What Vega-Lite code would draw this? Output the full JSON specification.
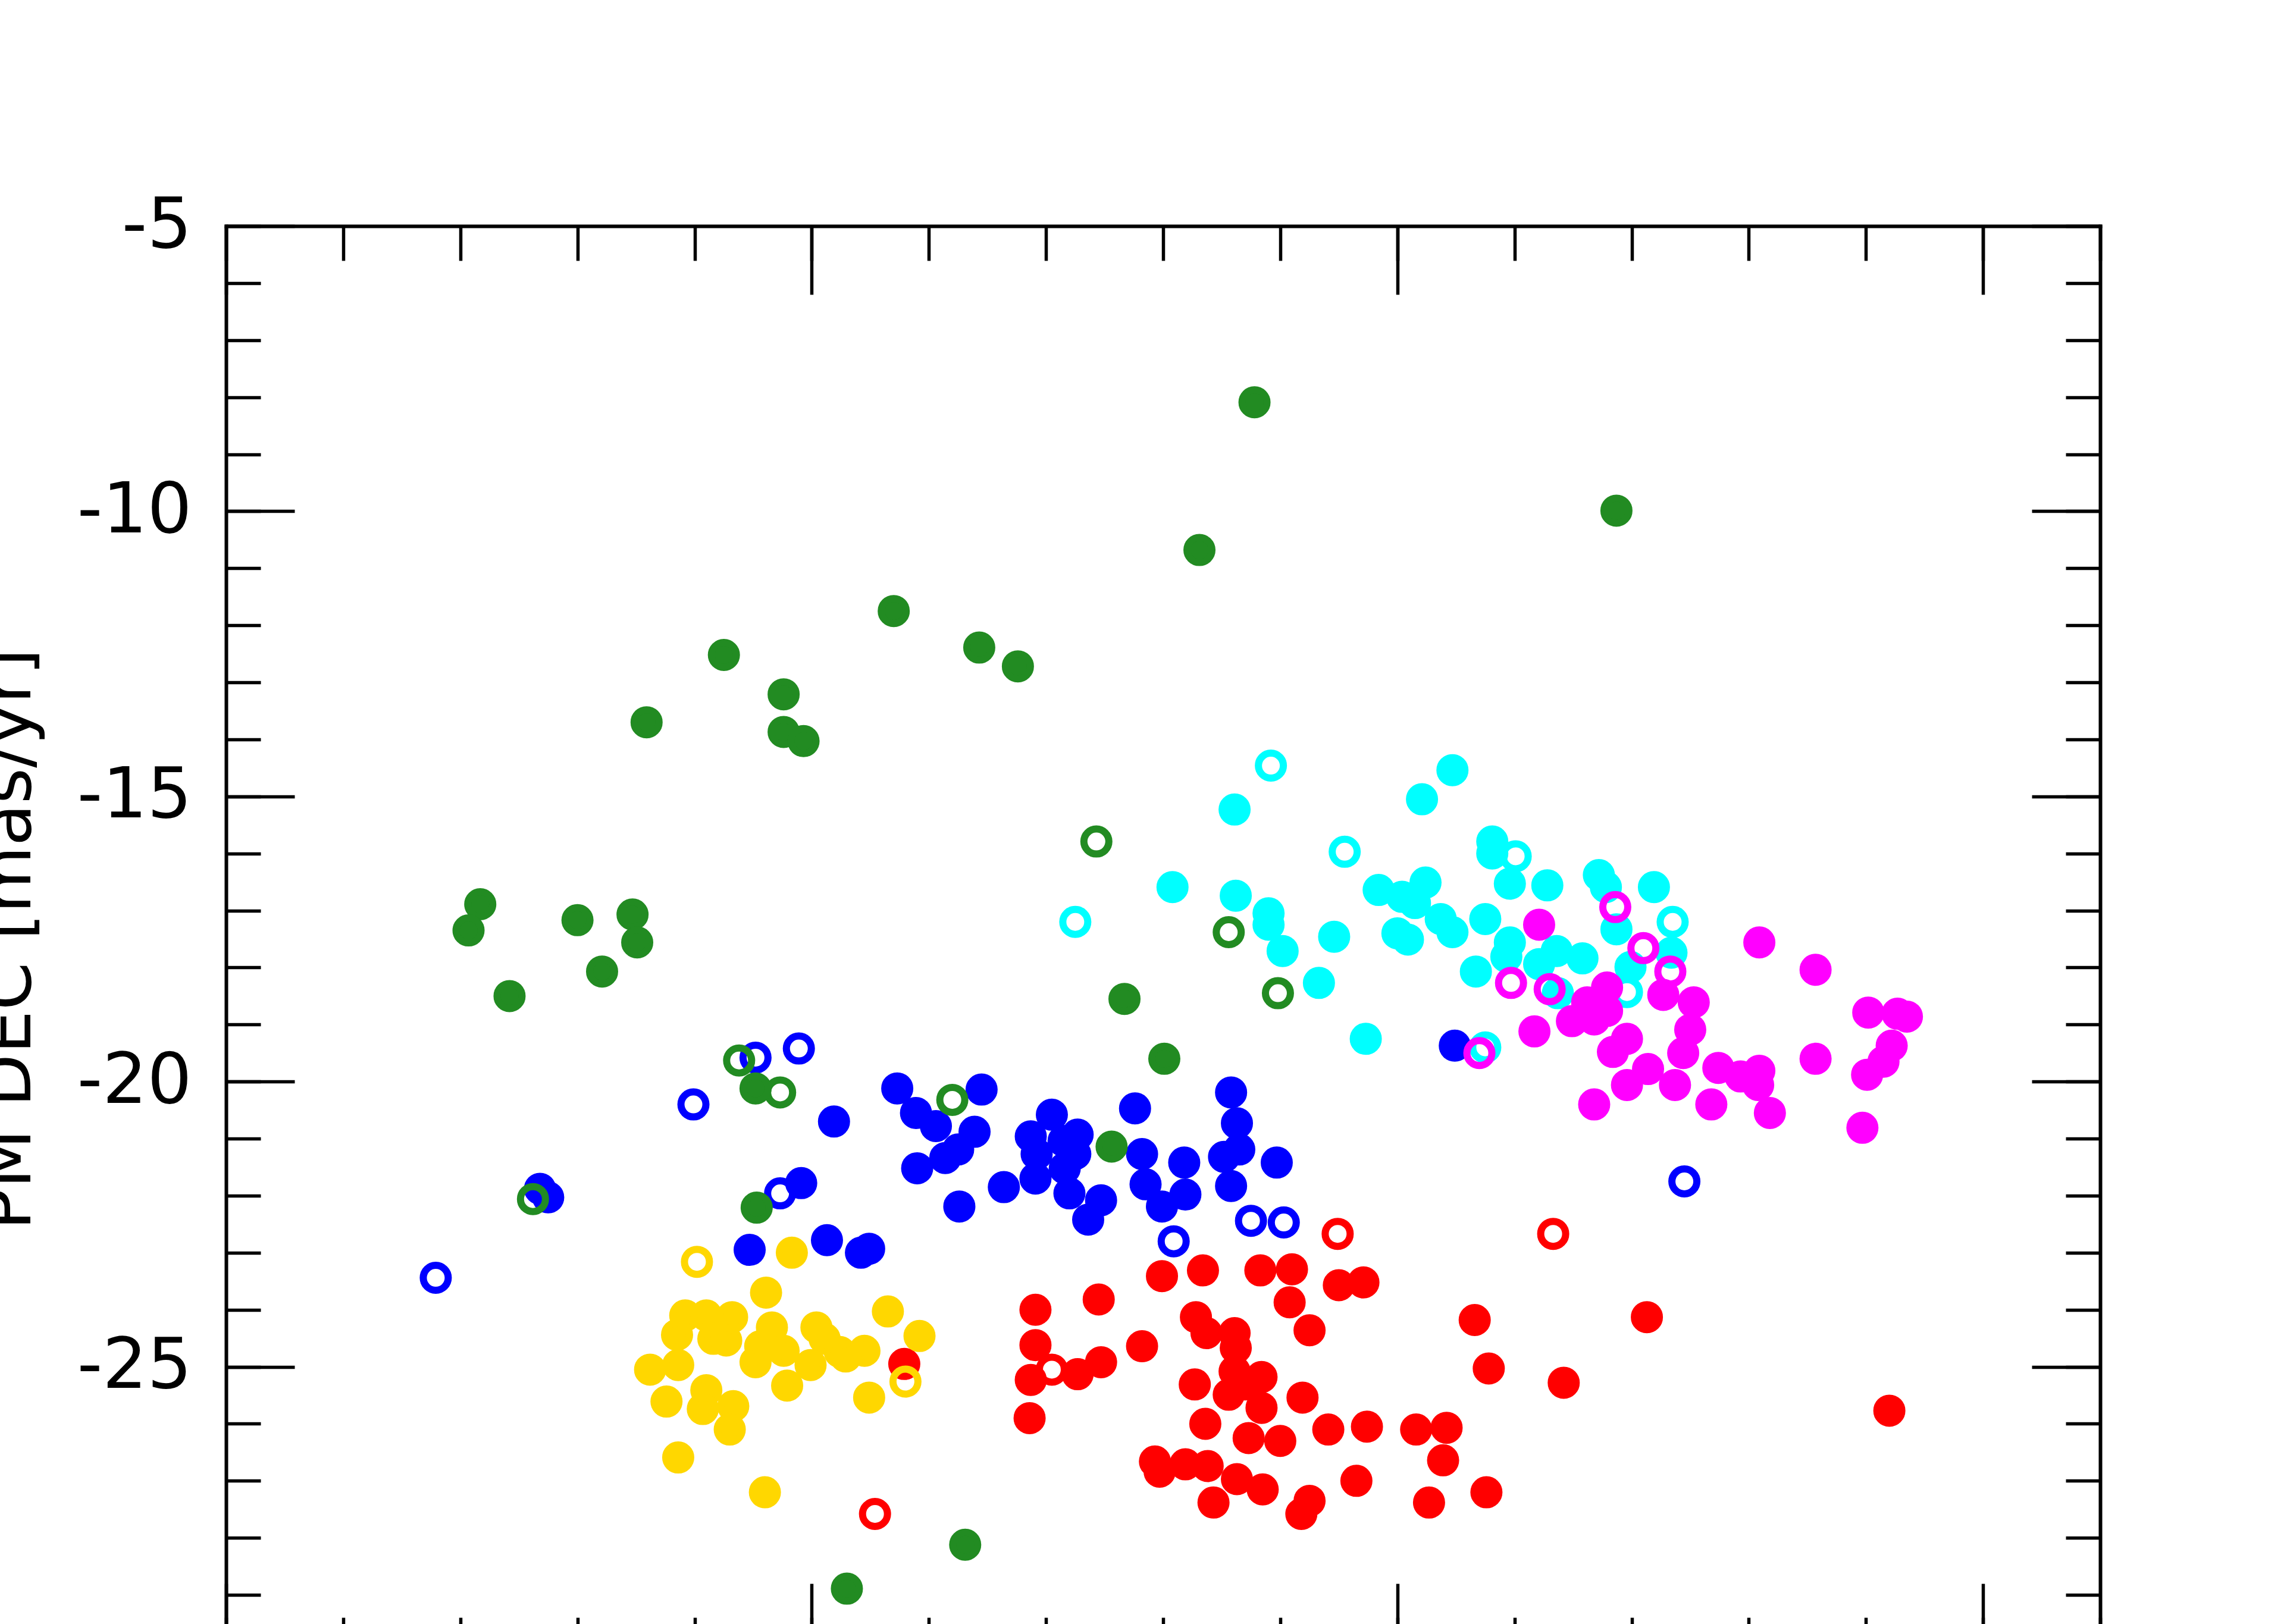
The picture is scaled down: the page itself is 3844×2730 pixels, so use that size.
{
"$schema": "https://vega.github.io/schema/vega-lite/v6.json",
"width": 3150,
"height": 2397,
"autosize": {"type": "none"},
"padding": {"left": 380, "top": 380, "right": 314, "bottom": 0},
"background": "white",
"config": {
  "view": {"stroke": null},
  "font": "DejaVu Sans",
  "axis": {"labelFont": "DejaVu Sans", "titleFont": "DejaVu Sans", "tickColor": "black", "domainColor": "black", "tickWidth": 5.5, "domainWidth": 6, "grid": false, "labelColor": "black", "titleColor": "black", "domainCap": "square", "labelLimit": 0}
},
"data": {"values": [
{"pmra":5.54,"pmdec":-27.58,"group":"red","kind":"open"},
{"pmra":9.49,"pmdec":-22.67,"group":"red","kind":"open"},
{"pmra":11.33,"pmdec":-22.67,"group":"red","kind":"open"},
{"pmra":7.05,"pmdec":-25.05,"group":"red","kind":"open"},
{"pmra":5.79,"pmdec":-24.95,"group":"red","kind":"filled"},
{"pmra":7.99,"pmdec":-23.41,"group":"red","kind":"filled"},
{"pmra":8.34,"pmdec":-23.31,"group":"red","kind":"filled"},
{"pmra":8.83,"pmdec":-23.31,"group":"red","kind":"filled"},
{"pmra":9.10,"pmdec":-23.29,"group":"red","kind":"filled"},
{"pmra":9.50,"pmdec":-23.57,"group":"red","kind":"filled"},
{"pmra":9.71,"pmdec":-23.52,"group":"red","kind":"filled"},
{"pmra":9.08,"pmdec":-23.87,"group":"red","kind":"filled"},
{"pmra":9.25,"pmdec":-24.36,"group":"red","kind":"filled"},
{"pmra":7.45,"pmdec":-23.82,"group":"red","kind":"filled"},
{"pmra":6.91,"pmdec":-24.00,"group":"red","kind":"filled"},
{"pmra":8.28,"pmdec":-24.13,"group":"red","kind":"filled"},
{"pmra":8.37,"pmdec":-24.41,"group":"red","kind":"filled"},
{"pmra":8.61,"pmdec":-24.41,"group":"red","kind":"filled"},
{"pmra":8.62,"pmdec":-24.67,"group":"red","kind":"filled"},
{"pmra":7.82,"pmdec":-24.64,"group":"red","kind":"filled"},
{"pmra":6.91,"pmdec":-24.62,"group":"red","kind":"filled"},
{"pmra":7.47,"pmdec":-24.92,"group":"red","kind":"filled"},
{"pmra":7.27,"pmdec":-25.13,"group":"red","kind":"filled"},
{"pmra":6.87,"pmdec":-25.23,"group":"red","kind":"filled"},
{"pmra":6.86,"pmdec":-25.90,"group":"red","kind":"filled"},
{"pmra":8.27,"pmdec":-25.31,"group":"red","kind":"filled"},
{"pmra":8.56,"pmdec":-25.49,"group":"red","kind":"filled"},
{"pmra":8.61,"pmdec":-25.08,"group":"red","kind":"filled"},
{"pmra":8.84,"pmdec":-25.18,"group":"red","kind":"filled"},
{"pmra":8.84,"pmdec":-25.72,"group":"red","kind":"filled"},
{"pmra":8.70,"pmdec":-25.31,"group":"red","kind":"filled"},
{"pmra":8.36,"pmdec":-26.00,"group":"red","kind":"filled"},
{"pmra":9.19,"pmdec":-25.54,"group":"red","kind":"filled"},
{"pmra":8.73,"pmdec":-26.25,"group":"red","kind":"filled"},
{"pmra":9.00,"pmdec":-26.30,"group":"red","kind":"filled"},
{"pmra":9.41,"pmdec":-26.10,"group":"red","kind":"filled"},
{"pmra":9.74,"pmdec":-26.05,"group":"red","kind":"filled"},
{"pmra":7.93,"pmdec":-26.66,"group":"red","kind":"filled"},
{"pmra":7.97,"pmdec":-26.84,"group":"red","kind":"filled"},
{"pmra":8.19,"pmdec":-26.71,"group":"red","kind":"filled"},
{"pmra":8.38,"pmdec":-26.74,"group":"red","kind":"filled"},
{"pmra":8.63,"pmdec":-26.97,"group":"red","kind":"filled"},
{"pmra":8.43,"pmdec":-27.38,"group":"red","kind":"filled"},
{"pmra":8.85,"pmdec":-27.15,"group":"red","kind":"filled"},
{"pmra":9.25,"pmdec":-27.35,"group":"red","kind":"filled"},
{"pmra":9.18,"pmdec":-27.58,"group":"red","kind":"filled"},
{"pmra":9.65,"pmdec":-27.00,"group":"red","kind":"filled"},
{"pmra":10.66,"pmdec":-24.18,"group":"red","kind":"filled"},
{"pmra":10.78,"pmdec":-25.03,"group":"red","kind":"filled"},
{"pmra":11.42,"pmdec":-25.28,"group":"red","kind":"filled"},
{"pmra":12.13,"pmdec":-24.13,"group":"red","kind":"filled"},
{"pmra":14.20,"pmdec":-25.77,"group":"red","kind":"filled"},
{"pmra":10.16,"pmdec":-26.10,"group":"red","kind":"filled"},
{"pmra":10.42,"pmdec":-26.07,"group":"red","kind":"filled"},
{"pmra":10.39,"pmdec":-26.64,"group":"red","kind":"filled"},
{"pmra":10.27,"pmdec":-27.38,"group":"red","kind":"filled"},
{"pmra":10.76,"pmdec":-27.20,"group":"red","kind":"filled"},
{"pmra":4.02,"pmdec":-23.16,"group":"gold","kind":"open"},
{"pmra":5.80,"pmdec":-25.26,"group":"gold","kind":"open"},
{"pmra":4.83,"pmdec":-23.00,"group":"gold","kind":"filled"},
{"pmra":4.61,"pmdec":-23.70,"group":"gold","kind":"filled"},
{"pmra":3.92,"pmdec":-24.10,"group":"gold","kind":"filled"},
{"pmra":4.10,"pmdec":-24.10,"group":"gold","kind":"filled"},
{"pmra":4.32,"pmdec":-24.13,"group":"gold","kind":"filled"},
{"pmra":3.85,"pmdec":-24.44,"group":"gold","kind":"filled"},
{"pmra":4.16,"pmdec":-24.51,"group":"gold","kind":"filled"},
{"pmra":4.27,"pmdec":-24.54,"group":"gold","kind":"filled"},
{"pmra":4.66,"pmdec":-24.31,"group":"gold","kind":"filled"},
{"pmra":5.04,"pmdec":-24.31,"group":"gold","kind":"filled"},
{"pmra":5.11,"pmdec":-24.51,"group":"gold","kind":"filled"},
{"pmra":5.65,"pmdec":-24.03,"group":"gold","kind":"filled"},
{"pmra":5.92,"pmdec":-24.46,"group":"gold","kind":"filled"},
{"pmra":4.52,"pmdec":-24.92,"group":"gold","kind":"filled"},
{"pmra":4.56,"pmdec":-24.64,"group":"gold","kind":"filled"},
{"pmra":4.76,"pmdec":-24.72,"group":"gold","kind":"filled"},
{"pmra":4.99,"pmdec":-24.97,"group":"gold","kind":"filled"},
{"pmra":5.24,"pmdec":-24.74,"group":"gold","kind":"filled"},
{"pmra":5.45,"pmdec":-24.72,"group":"gold","kind":"filled"},
{"pmra":4.79,"pmdec":-25.33,"group":"gold","kind":"filled"},
{"pmra":3.62,"pmdec":-25.05,"group":"gold","kind":"filled"},
{"pmra":3.86,"pmdec":-24.97,"group":"gold","kind":"filled"},
{"pmra":3.76,"pmdec":-25.61,"group":"gold","kind":"filled"},
{"pmra":4.10,"pmdec":-25.41,"group":"gold","kind":"filled"},
{"pmra":4.07,"pmdec":-25.74,"group":"gold","kind":"filled"},
{"pmra":4.33,"pmdec":-25.69,"group":"gold","kind":"filled"},
{"pmra":4.30,"pmdec":-26.10,"group":"gold","kind":"filled"},
{"pmra":5.49,"pmdec":-25.54,"group":"gold","kind":"filled"},
{"pmra":3.86,"pmdec":-26.59,"group":"gold","kind":"filled"},
{"pmra":4.60,"pmdec":-27.20,"group":"gold","kind":"filled"},
{"pmra":5.29,"pmdec":-24.82,"group":"gold","kind":"filled"},
{"pmra":1.79,"pmdec":-23.44,"group":"blue","kind":"open"},
{"pmra":3.99,"pmdec":-20.40,"group":"blue","kind":"open"},
{"pmra":4.52,"pmdec":-19.58,"group":"blue","kind":"open"},
{"pmra":4.89,"pmdec":-19.42,"group":"blue","kind":"open"},
{"pmra":4.73,"pmdec":-21.96,"group":"blue","kind":"open"},
{"pmra":8.09,"pmdec":-22.80,"group":"blue","kind":"open"},
{"pmra":8.75,"pmdec":-22.44,"group":"blue","kind":"open"},
{"pmra":9.03,"pmdec":-22.47,"group":"blue","kind":"open"},
{"pmra":12.45,"pmdec":-21.75,"group":"blue","kind":"open"},
{"pmra":2.68,"pmdec":-21.88,"group":"blue","kind":"filled"},
{"pmra":2.75,"pmdec":-22.03,"group":"blue","kind":"filled"},
{"pmra":5.19,"pmdec":-20.70,"group":"blue","kind":"filled"},
{"pmra":4.91,"pmdec":-21.78,"group":"blue","kind":"filled"},
{"pmra":4.47,"pmdec":-22.95,"group":"blue","kind":"filled"},
{"pmra":5.13,"pmdec":-22.78,"group":"blue","kind":"filled"},
{"pmra":5.42,"pmdec":-23.00,"group":"blue","kind":"filled"},
{"pmra":5.49,"pmdec":-22.93,"group":"blue","kind":"filled"},
{"pmra":5.73,"pmdec":-20.12,"group":"blue","kind":"filled"},
{"pmra":5.89,"pmdec":-20.55,"group":"blue","kind":"filled"},
{"pmra":6.06,"pmdec":-20.78,"group":"blue","kind":"filled"},
{"pmra":6.45,"pmdec":-20.14,"group":"blue","kind":"filled"},
{"pmra":6.39,"pmdec":-20.88,"group":"blue","kind":"filled"},
{"pmra":6.25,"pmdec":-21.19,"group":"blue","kind":"filled"},
{"pmra":6.14,"pmdec":-21.34,"group":"blue","kind":"filled"},
{"pmra":5.90,"pmdec":-21.52,"group":"blue","kind":"filled"},
{"pmra":6.26,"pmdec":-22.19,"group":"blue","kind":"filled"},
{"pmra":6.64,"pmdec":-21.85,"group":"blue","kind":"filled"},
{"pmra":7.05,"pmdec":-20.58,"group":"blue","kind":"filled"},
{"pmra":6.87,"pmdec":-20.96,"group":"blue","kind":"filled"},
{"pmra":6.92,"pmdec":-21.27,"group":"blue","kind":"filled"},
{"pmra":6.91,"pmdec":-21.70,"group":"blue","kind":"filled"},
{"pmra":7.15,"pmdec":-21.04,"group":"blue","kind":"filled"},
{"pmra":7.27,"pmdec":-20.93,"group":"blue","kind":"filled"},
{"pmra":7.25,"pmdec":-21.27,"group":"blue","kind":"filled"},
{"pmra":7.16,"pmdec":-21.52,"group":"blue","kind":"filled"},
{"pmra":7.20,"pmdec":-21.96,"group":"blue","kind":"filled"},
{"pmra":7.47,"pmdec":-22.08,"group":"blue","kind":"filled"},
{"pmra":7.36,"pmdec":-22.42,"group":"blue","kind":"filled"},
{"pmra":7.76,"pmdec":-20.47,"group":"blue","kind":"filled"},
{"pmra":7.82,"pmdec":-21.27,"group":"blue","kind":"filled"},
{"pmra":7.85,"pmdec":-21.80,"group":"blue","kind":"filled"},
{"pmra":7.99,"pmdec":-22.19,"group":"blue","kind":"filled"},
{"pmra":8.18,"pmdec":-21.42,"group":"blue","kind":"filled"},
{"pmra":8.19,"pmdec":-21.98,"group":"blue","kind":"filled"},
{"pmra":8.58,"pmdec":-20.19,"group":"blue","kind":"filled"},
{"pmra":8.63,"pmdec":-20.73,"group":"blue","kind":"filled"},
{"pmra":8.65,"pmdec":-21.19,"group":"blue","kind":"filled"},
{"pmra":8.52,"pmdec":-21.32,"group":"blue","kind":"filled"},
{"pmra":8.58,"pmdec":-21.83,"group":"blue","kind":"filled"},
{"pmra":8.97,"pmdec":-21.42,"group":"blue","kind":"filled"},
{"pmra":10.49,"pmdec":-19.37,"group":"blue","kind":"filled"},
{"pmra":7.43,"pmdec":-15.79,"group":"green","kind":"open"},
{"pmra":8.56,"pmdec":-17.38,"group":"green","kind":"open"},
{"pmra":8.98,"pmdec":-18.45,"group":"green","kind":"open"},
{"pmra":4.38,"pmdec":-19.63,"group":"green","kind":"open"},
{"pmra":4.73,"pmdec":-20.19,"group":"green","kind":"open"},
{"pmra":6.20,"pmdec":-20.32,"group":"green","kind":"open"},
{"pmra":2.62,"pmdec":-22.06,"group":"green","kind":"open"},
{"pmra":8.78,"pmdec":-8.09,"group":"green","kind":"filled"},
{"pmra":11.87,"pmdec":-9.99,"group":"green","kind":"filled"},
{"pmra":8.31,"pmdec":-10.68,"group":"green","kind":"filled"},
{"pmra":5.70,"pmdec":-11.75,"group":"green","kind":"filled"},
{"pmra":4.25,"pmdec":-12.52,"group":"green","kind":"filled"},
{"pmra":6.43,"pmdec":-12.39,"group":"green","kind":"filled"},
{"pmra":6.76,"pmdec":-12.72,"group":"green","kind":"filled"},
{"pmra":4.76,"pmdec":-13.21,"group":"green","kind":"filled"},
{"pmra":3.59,"pmdec":-13.70,"group":"green","kind":"filled"},
{"pmra":4.76,"pmdec":-13.87,"group":"green","kind":"filled"},
{"pmra":4.93,"pmdec":-14.03,"group":"green","kind":"filled"},
{"pmra":2.17,"pmdec":-16.89,"group":"green","kind":"filled"},
{"pmra":2.07,"pmdec":-17.35,"group":"green","kind":"filled"},
{"pmra":3.00,"pmdec":-17.17,"group":"green","kind":"filled"},
{"pmra":3.47,"pmdec":-17.07,"group":"green","kind":"filled"},
{"pmra":3.51,"pmdec":-17.56,"group":"green","kind":"filled"},
{"pmra":3.21,"pmdec":-18.07,"group":"green","kind":"filled"},
{"pmra":2.42,"pmdec":-18.50,"group":"green","kind":"filled"},
{"pmra":7.67,"pmdec":-18.55,"group":"green","kind":"filled"},
{"pmra":8.01,"pmdec":-19.60,"group":"green","kind":"filled"},
{"pmra":4.52,"pmdec":-20.12,"group":"green","kind":"filled"},
{"pmra":7.56,"pmdec":-21.14,"group":"green","kind":"filled"},
{"pmra":4.53,"pmdec":-22.21,"group":"green","kind":"filled"},
{"pmra":6.31,"pmdec":-28.12,"group":"green","kind":"filled"},
{"pmra":5.30,"pmdec":-28.89,"group":"green","kind":"filled"},
{"pmra":8.92,"pmdec":-14.46,"group":"cyan","kind":"open"},
{"pmra":9.55,"pmdec":-15.97,"group":"cyan","kind":"open"},
{"pmra":11.01,"pmdec":-16.05,"group":"cyan","kind":"open"},
{"pmra":12.35,"pmdec":-17.20,"group":"cyan","kind":"open"},
{"pmra":7.25,"pmdec":-17.20,"group":"cyan","kind":"open"},
{"pmra":10.75,"pmdec":-19.40,"group":"cyan","kind":"open"},
{"pmra":11.96,"pmdec":-18.43,"group":"cyan","kind":"open"},
{"pmra":8.08,"pmdec":-16.59,"group":"cyan","kind":"filled"},
{"pmra":8.61,"pmdec":-15.23,"group":"cyan","kind":"filled"},
{"pmra":8.62,"pmdec":-16.74,"group":"cyan","kind":"filled"},
{"pmra":8.90,"pmdec":-17.05,"group":"cyan","kind":"filled"},
{"pmra":8.90,"pmdec":-17.25,"group":"cyan","kind":"filled"},
{"pmra":9.02,"pmdec":-17.71,"group":"cyan","kind":"filled"},
{"pmra":9.33,"pmdec":-18.27,"group":"cyan","kind":"filled"},
{"pmra":9.46,"pmdec":-17.46,"group":"cyan","kind":"filled"},
{"pmra":9.73,"pmdec":-19.25,"group":"cyan","kind":"filled"},
{"pmra":9.84,"pmdec":-16.64,"group":"cyan","kind":"filled"},
{"pmra":10.04,"pmdec":-16.76,"group":"cyan","kind":"filled"},
{"pmra":10.24,"pmdec":-16.51,"group":"cyan","kind":"filled"},
{"pmra":10.15,"pmdec":-16.87,"group":"cyan","kind":"filled"},
{"pmra":10.37,"pmdec":-17.15,"group":"cyan","kind":"filled"},
{"pmra":10.47,"pmdec":-17.38,"group":"cyan","kind":"filled"},
{"pmra":10.00,"pmdec":-17.40,"group":"cyan","kind":"filled"},
{"pmra":10.09,"pmdec":-17.51,"group":"cyan","kind":"filled"},
{"pmra":10.21,"pmdec":-15.05,"group":"cyan","kind":"filled"},
{"pmra":10.47,"pmdec":-14.54,"group":"cyan","kind":"filled"},
{"pmra":10.75,"pmdec":-17.15,"group":"cyan","kind":"filled"},
{"pmra":10.81,"pmdec":-15.79,"group":"cyan","kind":"filled"},
{"pmra":10.81,"pmdec":-16.00,"group":"cyan","kind":"filled"},
{"pmra":10.96,"pmdec":-16.53,"group":"cyan","kind":"filled"},
{"pmra":11.28,"pmdec":-16.56,"group":"cyan","kind":"filled"},
{"pmra":10.96,"pmdec":-17.56,"group":"cyan","kind":"filled"},
{"pmra":10.93,"pmdec":-17.81,"group":"cyan","kind":"filled"},
{"pmra":10.67,"pmdec":-18.07,"group":"cyan","kind":"filled"},
{"pmra":11.36,"pmdec":-17.71,"group":"cyan","kind":"filled"},
{"pmra":11.58,"pmdec":-17.84,"group":"cyan","kind":"filled"},
{"pmra":11.21,"pmdec":-17.94,"group":"cyan","kind":"filled"},
{"pmra":11.37,"pmdec":-18.45,"group":"cyan","kind":"filled"},
{"pmra":11.72,"pmdec":-16.38,"group":"cyan","kind":"filled"},
{"pmra":11.78,"pmdec":-16.59,"group":"cyan","kind":"filled"},
{"pmra":12.19,"pmdec":-16.59,"group":"cyan","kind":"filled"},
{"pmra":11.87,"pmdec":-17.33,"group":"cyan","kind":"filled"},
{"pmra":11.99,"pmdec":-17.99,"group":"cyan","kind":"filled"},
{"pmra":12.34,"pmdec":-17.74,"group":"cyan","kind":"filled"},
{"pmra":11.86,"pmdec":-16.94,"group":"magenta","kind":"open"},
{"pmra":12.10,"pmdec":-17.66,"group":"magenta","kind":"open"},
{"pmra":12.33,"pmdec":-18.07,"group":"magenta","kind":"open"},
{"pmra":10.97,"pmdec":-18.27,"group":"magenta","kind":"open"},
{"pmra":11.30,"pmdec":-18.38,"group":"magenta","kind":"open"},
{"pmra":10.70,"pmdec":-19.50,"group":"magenta","kind":"open"},
{"pmra":11.21,"pmdec":-17.25,"group":"magenta","kind":"filled"},
{"pmra":11.17,"pmdec":-19.12,"group":"magenta","kind":"filled"},
{"pmra":11.49,"pmdec":-18.94,"group":"magenta","kind":"filled"},
{"pmra":11.68,"pmdec":-18.91,"group":"magenta","kind":"filled"},
{"pmra":11.62,"pmdec":-18.61,"group":"magenta","kind":"filled"},
{"pmra":11.79,"pmdec":-18.35,"group":"magenta","kind":"filled"},
{"pmra":12.27,"pmdec":-18.48,"group":"magenta","kind":"filled"},
{"pmra":12.53,"pmdec":-18.61,"group":"magenta","kind":"filled"},
{"pmra":12.50,"pmdec":-19.09,"group":"magenta","kind":"filled"},
{"pmra":12.44,"pmdec":-19.50,"group":"magenta","kind":"filled"},
{"pmra":11.96,"pmdec":-19.25,"group":"magenta","kind":"filled"},
{"pmra":11.84,"pmdec":-19.48,"group":"magenta","kind":"filled"},
{"pmra":12.14,"pmdec":-19.78,"group":"magenta","kind":"filled"},
{"pmra":11.96,"pmdec":-20.06,"group":"magenta","kind":"filled"},
{"pmra":12.37,"pmdec":-20.06,"group":"magenta","kind":"filled"},
{"pmra":12.74,"pmdec":-19.76,"group":"magenta","kind":"filled"},
{"pmra":12.93,"pmdec":-19.91,"group":"magenta","kind":"filled"},
{"pmra":13.09,"pmdec":-19.81,"group":"magenta","kind":"filled"},
{"pmra":13.08,"pmdec":-20.06,"group":"magenta","kind":"filled"},
{"pmra":12.68,"pmdec":-20.40,"group":"magenta","kind":"filled"},
{"pmra":13.18,"pmdec":-20.55,"group":"magenta","kind":"filled"},
{"pmra":11.68,"pmdec":-20.40,"group":"magenta","kind":"filled"},
{"pmra":13.09,"pmdec":-17.56,"group":"magenta","kind":"filled"},
{"pmra":13.57,"pmdec":-18.04,"group":"magenta","kind":"filled"},
{"pmra":13.57,"pmdec":-19.60,"group":"magenta","kind":"filled"},
{"pmra":14.02,"pmdec":-18.79,"group":"magenta","kind":"filled"},
{"pmra":14.27,"pmdec":-18.81,"group":"magenta","kind":"filled"},
{"pmra":14.35,"pmdec":-18.86,"group":"magenta","kind":"filled"},
{"pmra":14.22,"pmdec":-19.37,"group":"magenta","kind":"filled"},
{"pmra":14.15,"pmdec":-19.65,"group":"magenta","kind":"filled"},
{"pmra":14.01,"pmdec":-19.88,"group":"magenta","kind":"filled"},
{"pmra":13.97,"pmdec":-20.81,"group":"magenta","kind":"filled"},
{"pmra":11.79,"pmdec":-18.76,"group":"magenta","kind":"filled"}
]},
"resolve": {"axis": {"x": "independent", "y": "independent"}},
"layer": [
  {
    "mark": {"type": "point", "shape": "circle", "size": 1764, "strokeWidth": 12, "opacity": 1, "fillOpacity": 1, "strokeOpacity": 1},
    "encoding": {
      "x": {"field": "pmra", "type": "quantitative", "scale": {"domain": [0, 16], "nice": false, "zero": false},
        "axis": {"orient": "bottom", "values": [0, 5, 10, 15], "tickSize": -115, "labels": false, "title": null, "domain": true}},
      "y": {"field": "pmdec", "type": "quantitative", "scale": {"domain": [-30, -5], "nice": false, "zero": false},
        "axis": {"orient": "left", "values": [-25, -20, -15, -10, -5], "tickSize": -115, "labelPadding": 173, "labelFontSize": 118, "labelExpr": "toString(datum.value)", "labelFlush": false, "labelOverlap": false, "title": "PM DEC [mas/yr]", "titleFontSize": 116, "titleFontWeight": "normal", "titleX": -330, "titleY": 1198.5, "titleAngle": -90, "titleBaseline": "alphabetic", "titleAlign": "center", "domain": true}},
      "fill": {"condition": {"test": "datum.kind === 'open'", "value": "transparent"}, "field": "group", "type": "nominal",
        "scale": {"domain": ["red", "gold", "blue", "green", "cyan", "magenta"], "range": ["#ff0000", "#ffd700", "#0000ff", "#228b22", "#00ffff", "#ff00ff"]}, "legend": null},
      "stroke": {"field": "group", "type": "nominal",
        "scale": {"domain": ["red", "gold", "blue", "green", "cyan", "magenta"], "range": ["#ff0000", "#ffd700", "#0000ff", "#228b22", "#00ffff", "#ff00ff"]}, "legend": null}
    }
  },
  {
    "mark": {"type": "point", "opacity": 0},
    "encoding": {
      "x": {"field": "pmra", "type": "quantitative", "scale": {"domain": [0, 16], "nice": false, "zero": false},
        "axis": {"orient": "bottom", "values": [0,1,2,3,4,5,6,7,8,9,10,11,12,13,14,15,16], "tickSize": -58, "labels": false, "domain": false, "title": null}},
      "y": {"field": "pmdec", "type": "quantitative", "scale": {"domain": [-30, -5], "nice": false, "zero": false},
        "axis": {"orient": "left", "values": [-30,-29,-28,-27,-26,-25,-24,-23,-22,-21,-20,-19,-18,-17,-16,-15,-14,-13,-12,-11,-10,-9,-8,-7,-6,-5], "tickSize": -58, "labels": false, "domain": false, "title": null}}
    }
  },
  {
    "mark": {"type": "point", "opacity": 0},
    "encoding": {
      "x": {"field": "pmra", "type": "quantitative", "scale": {"domain": [0, 16], "nice": false, "zero": false},
        "axis": {"orient": "top", "values": [0, 5, 10, 15], "tickSize": -115, "labels": false, "domain": true, "title": null}},
      "y": {"field": "pmdec", "type": "quantitative", "scale": {"domain": [-30, -5], "nice": false, "zero": false},
        "axis": {"orient": "right", "values": [-30, -25, -20, -15, -10, -5], "tickSize": -115, "labels": false, "domain": true, "title": null}}
    }
  },
  {
    "mark": {"type": "point", "opacity": 0},
    "encoding": {
      "x": {"field": "pmra", "type": "quantitative", "scale": {"domain": [0, 16], "nice": false, "zero": false},
        "axis": {"orient": "top", "values": [0,1,2,3,4,5,6,7,8,9,10,11,12,13,14,15,16], "tickSize": -58, "labels": false, "domain": false, "title": null}},
      "y": {"field": "pmdec", "type": "quantitative", "scale": {"domain": [-30, -5], "nice": false, "zero": false},
        "axis": {"orient": "right", "values": [-30,-29,-28,-27,-26,-25,-24,-23,-22,-21,-20,-19,-18,-17,-16,-15,-14,-13,-12,-11,-10,-9,-8,-7,-6,-5], "tickSize": -58, "labels": false, "domain": false, "title": null}}
    }
  }
]
}
